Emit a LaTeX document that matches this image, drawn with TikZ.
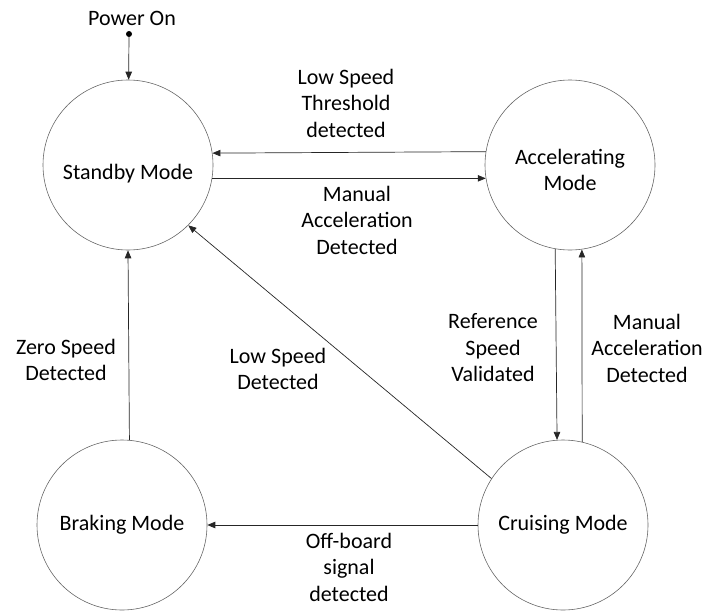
\documentclass[tikz,border=0pt]{standalone}
\usepackage{fontspec}
\setmainfont{Carlito}
\usetikzlibrary{arrows.meta}

\tikzset{
  mode/.style={circle,draw=black!60,line width=0.6pt,minimum size=170pt,inner sep=0pt,align=center},
  trans/.style={draw=black!85,line width=0.7pt,-{Triangle[length=8pt,width=6.5pt]}},
  cond/.style={align=center,inner sep=0pt}
}

\begin{document}
\begin{tikzpicture}[x=1pt,y=-1pt,font=\fontsize{22}{26.5}\selectfont]
		\useasboundingbox (0,0) rectangle (706,610);
		
		%states
		\node[mode,text height=33pt,text depth=5pt] (standby) at (128,165) {Standby Mode};
		\node[mode] (accel) at (570,165) {\rule{0pt}{25pt}Accelerating\\Mode};
		\node[mode] (braking) at (122,525) {Braking Mode};
		\node[mode] (cruise) at (563,525) {Cruising Mode};
		
		%power on
		\node[circle,fill=black,inner sep=0pt,minimum size=6pt] (pwr) at (129,34) {};
		\node[cond] (pwrlabel) at (132,18) {Power On};
		\draw[trans] (pwr) -- (standby);
		
		%transitions
		\draw[trans] (accel.171.2) -- (standby.8.8);
		\draw[trans] (standby.-9.5) -- (accel.189.5);
		\draw[trans] (accel.260.5) -- (cruise.94.7);
		\draw[trans] (cruise.77.1) -- (accel.278.1);
		\draw[trans] (braking.85.3) -- (standby.270.7);
		\draw[trans] (cruise.147.4) -- (standby.-45.5);
		\draw[trans] (cruise) -- (braking);
		
		%conditions
		\node[cond] (thresh) at (346,103) {Low Speed\\Threshold\\detected};
		\node[cond] (manual) at (357,220) {Manual\\Acceleration\\Detected};
		\node[cond] (refspeed) at (493,348) {Reference\\Speed\\Validated};
		\node[cond] (manualup) at (647,348) {Manual\\Acceleration\\Detected};
		\node[cond] (zero) at (66,360) {Zero Speed\\Detected};
		\node[cond] (lowspeed) at (278,369) {Low Speed\\Detected};
		\node[cond] (offboard) at (349,567) {Off-board\\signal\\detected};
		
\end{tikzpicture}
\end{document}
